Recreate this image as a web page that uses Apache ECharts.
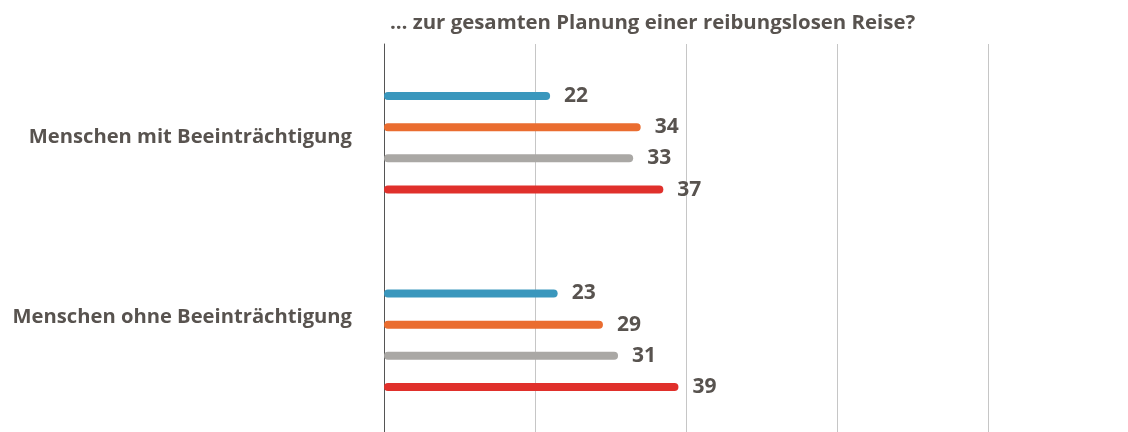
<!DOCTYPE html>
<html>
<head>
<meta charset="utf-8">
<script src="https://cdn.jsdelivr.net/npm/echarts@6/dist/echarts.min.js"></script>
<style>
  html, body { margin: 0; padding: 0; background: #fff; }
  #chart { width: 1128px; height: 432px; }
</style>
</head>
<body>
<div id="chart"></div>
<script>
// Groups shown on the vertical axis
const groups = ['Menschen mit Beeinträchtigung', 'Menschen ohne Beeinträchtigung'];
// Four answer series per group (values in percent)
const seriesBlue = [22, 23];
const seriesOrange = [34, 29];
const seriesGray = [33, 31];
const seriesRed = [37, 39];
const chartTitle = '… zur gesamten Planung einer reibungslosen Reise?';

const textColor = '#58534f';
const fontFamily = '"Open Sans", sans-serif';

function makeSeries(data, color) {
  return {
    type: 'bar',
    data: data,
    barWidth: 8,
    barGap: '290%',
    itemStyle: { color: color, borderRadius: 4 },
    label: {
      show: true,
      position: 'right',
      distance: 14,
      color: textColor,
      fontFamily: fontFamily,
      fontWeight: 'bold',
      fontSize: 21
    }
  };
}

const chart = echarts.init(document.getElementById('chart'));
chart.setOption({
  animation: false,
  title: {
    text: chartTitle,
    left: 385,
    top: 8,
    textStyle: { color: textColor, fontFamily: fontFamily, fontWeight: 'bold', fontSize: 20.4 }
  },
  grid: {
    left: 384, width: 755, top: 44, height: 395,
    containLabel: false,
    outerBoundsMode: 'none'
  },
  xAxis: {
    type: 'value',
    min: 0,
    max: 100,
    interval: 20,
    axisLabel: { show: false },
    axisLine: { show: false },
    axisTick: { show: false },
    splitLine: { show: true, lineStyle: { color: '#c6c6c6', width: 1 } }
  },
  yAxis: {
    type: 'category',
    inverse: true,
    data: groups,
    axisLine: { show: true, lineStyle: { color: '#555', width: 1 } },
    axisTick: { show: false },
    axisLabel: {
      margin: 32,
      formatter: function (v, i) { return i === 0 ? '{a|' + v + '}' : '{b|' + v + '}'; },
      rich: {
        a: { color: textColor, fontFamily: fontFamily, fontWeight: 'bold', fontSize: 20.2, padding: [0, 0, 12, 0] },
        b: { color: textColor, fontFamily: fontFamily, fontWeight: 'bold', fontSize: 20.2, padding: [0, 0, 46, 0] }
      }
    }
  },
  series: [
    makeSeries(seriesBlue, '#3a97bd'),
    makeSeries(seriesOrange, '#ea6d30'),
    makeSeries(seriesGray, '#aaa8a5'),
    makeSeries(seriesRed, '#e0302b')
  ]
});
</script>
</body>
</html>
